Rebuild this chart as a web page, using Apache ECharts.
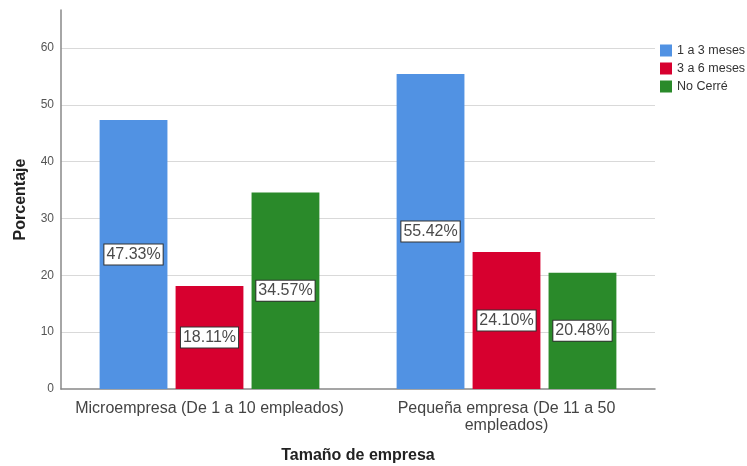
<!DOCTYPE html>
<html><head><meta charset="utf-8">
<script src="https://cdn.jsdelivr.net/npm/echarts@6/dist/echarts.min.js"></script>
<style>html,body{margin:0;padding:0;background:#fff}#c{width:747px;height:466px}</style>
</head><body><div id="c"></div>
<script>
var categories = ['Microempresa (De 1 a 10 empleados)', 'Pequeña empresa (De 11 a 50\nempleados)'];
var seriesNames = ['1 a 3 meses', '3 a 6 meses', 'No Cerré'];
var s1 = [47.33, 55.42];
var s2 = [18.11, 24.10];
var s3 = [34.57, 20.48];
var yTicks = [0, 10, 20, 30, 40, 50, 60];
var colors = ['#5192e3', '#d7002f', '#2a8a2a'];
var font = 'Liberation Sans, Arial, sans-serif';

var chart = echarts.init(document.getElementById('c'), null, {renderer: 'canvas'});
function mk(name, data, color) {
  return {
    name: name, type: 'bar', data: data,
    barGap: '12%', barCategoryGap: '26%',
    itemStyle: {color: color},
    label: {
      show: true, position: 'inside',
      formatter: function (p) { return p.value.toFixed(2) + '%'; },
      color: '#4a4a4a', fontFamily: font, fontSize: 16,
      backgroundColor: '#fff', borderColor: '#333', borderWidth: 1,
      padding: [3, 2, 1, 2]
    }
  };
}
chart.setOption({
  animation: false,
  color: colors,
  grid: {left: 61, right: 92, top: 10, bottom: 77, containLabel: false, outerBoundsMode: 'none'},
  legend: {
    orient: 'vertical', left: 655, top: 39,
    itemWidth: 12, itemHeight: 12, itemGap: 5,
    icon: 'rect',
    textStyle: {fontFamily: font, fontSize: 12.5, color: '#333'},
    data: seriesNames
  },
  xAxis: {
    type: 'category', data: categories,
    name: 'Tamaño de empresa', nameLocation: 'middle', nameGap: 59,
    nameTextStyle: {fontFamily: font, fontSize: 16, fontWeight: 'bold', color: '#222'},
    axisLine: {lineStyle: {color: '#888', width: 1.5}},
    axisTick: {show: false},
    axisLabel: {fontFamily: font, fontSize: 16, color: '#444', interval: 0, margin: 11, lineHeight: 17}
  },
  yAxis: {
    type: 'value', min: 0, max: 66.7, interval: 10,
    name: 'Porcentaje', nameLocation: 'middle', nameGap: 32,
    nameTextStyle: {fontFamily: font, fontSize: 16, fontWeight: 'bold', color: '#222'},
    axisLine: {show: true, lineStyle: {color: '#888', width: 1.5}},
    axisTick: {show: false},
    axisLabel: {fontFamily: font, fontSize: 12, color: '#555', margin: 7, showMaxLabel: false},
    splitLine: {show: true, showMaxLine: false, showMinLine: false, lineStyle: {color: '#d9d9d9', width: 1}}
  },
  series: [mk(seriesNames[0], s1, colors[0]), mk(seriesNames[1], s2, colors[1]), mk(seriesNames[2], s3, colors[2])]
});
</script></body></html>
